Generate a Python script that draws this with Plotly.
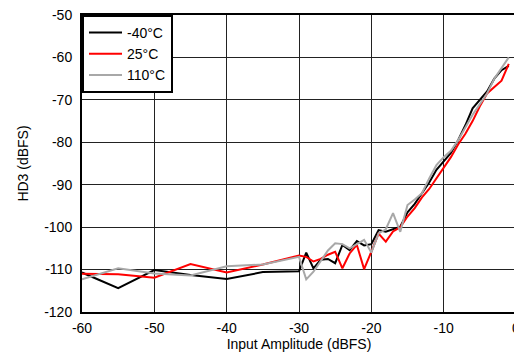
import plotly.graph_objects as go

x_vals = [-60, -55, -50, -45, -40, -35, -30, -29, -28, -27, -26, -25, -24, -23, -22, -21,
          -20, -19, -18, -17, -16, -15, -14, -13, -12, -11, -10, -9, -8, -7, -6, -5, -4, -3, -2, -1]

hd3_m40 = [-110.7, -114.4, -110.1, -111.3, -112.2, -110.6, -110.4, -106.0, -109.7, -107.7, -107.5,
           -108.5, -104.2, -105.4, -103.3, -104.3, -104.0, -100.7, -101.1, -100.5, -99.9, -96.5,
           -94.5, -92.0, -89.5, -86.5, -84.5, -82.5, -79.5, -76.0, -72.0, -70.0, -68.0, -65.0,
           -63.0, -62.0]

hd3_25 = [-111.0, -111.1, -111.9, -108.7, -110.7, -108.8, -106.7, -107.0, -108.1, -107.5, -106.5,
          -105.8, -109.7, -106.2, -104.2, -109.9, -105.8, -101.5, -103.4, -101.0, -100.0, -97.5,
          -95.5, -93.0, -91.0, -88.5, -86.0, -83.5, -80.5, -78.0, -75.0, -71.5, -68.5, -67.0,
          -65.5, -61.5]

hd3_110 = [-112.3, -109.7, -110.9, -111.4, -109.2, -108.8, -107.0, -112.3, -110.5, -108.0, -105.5,
           -103.8, -104.0, -105.0, -104.0, -103.0, -106.0, -101.5, -100.5, -96.7, -101.1, -94.8,
           -93.5, -92.0, -88.5, -85.4, -83.5, -82.0, -79.5, -76.5, -73.5, -71.0, -68.5, -65.0,
           -62.5, -60.0]

series_names = ["-40°C", "25°C", "110°C"]
series_colors = ["#000000", "#ff0000", "#a8a8a8"]

x_tickvals = [-60, -50, -40, -30, -20, -10, 0]
x_ticktext = ["-60", "-50", "-40", "-30", "-20", "-10", "0"]
y_tickvals = [-120, -110, -100, -90, -80, -70, -60, -50]
y_ticktext = ["-120", "-110", "-100", "-90", "-80", "-70", "-60", "-50"]

fig = go.Figure()
for name, ys, col in zip(series_names, [hd3_m40, hd3_25, hd3_110], series_colors):
    fig.add_trace(go.Scatter(x=x_vals, y=ys, mode="lines", name=name,
                             line=dict(color=col, width=2)))

font = dict(family="Liberation Sans, Arial, sans-serif", size=14, color="black")

# The page body has an 8px default margin, so the figure is sized to fit the window.
fig.update_layout(
    width=514, height=344,
    margin=dict(l=74, r=6, t=7, b=40),
    paper_bgcolor="white", plot_bgcolor="white",
    font=font,
    showlegend=True,
    legend=dict(x=0, y=1, xanchor="left", yanchor="top",
                bgcolor="white", bordercolor="black", borderwidth=2,
                font=font, tracegroupgap=0, itemwidth=33),
    xaxis=dict(range=[-60, 0], tickmode="array", tickvals=x_tickvals, ticktext=x_ticktext,
               showgrid=True, gridcolor="#222222", gridwidth=1,
               showline=True, linecolor="black", linewidth=2, mirror=True,
               zeroline=False, ticks="", ticklen=0, ticklabeloverflow="allow",
               ticklabelstandoff=2, automargin=False,
               title=dict(text="Input Amplitude (dBFS)", standoff=0, font=font)),
    yaxis=dict(range=[-120, -50], tickmode="array", tickvals=y_tickvals, ticktext=y_ticktext,
               showgrid=True, gridcolor="#222222", gridwidth=1,
               showline=True, linecolor="black", linewidth=2, mirror=True,
               zeroline=False, ticks="", ticklen=0, ticklabelstandoff=5,
               ticklabeloverflow="allow", automargin=False,
               title=dict(text="HD3 (dBFS)", standoff=12, font=font)),
)

fig.write_html("out.html")
